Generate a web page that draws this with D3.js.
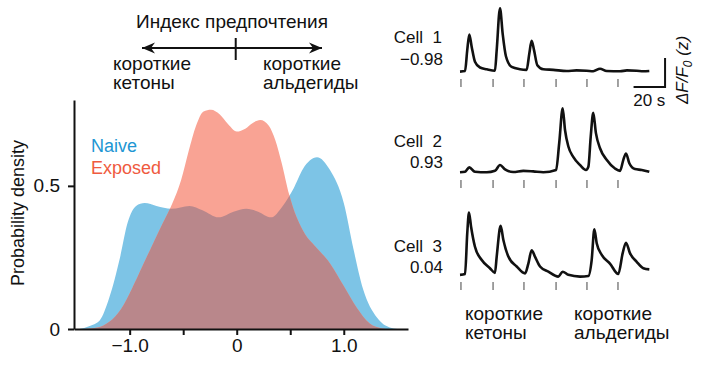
<!DOCTYPE html>
<html>
<head>
<meta charset="utf-8">
<script src="https://cdn.jsdelivr.net/npm/d3@7"></script>
<style>
    body { margin: 0; background: #fff; }
    svg text { font-family: "Liberation Sans", Arial, Helvetica, sans-serif; fill: #111; }
</style>
</head>
<body>
<div class="figure"></div>
<script>
// density of preference index: [index, density]
var naive = [[-1.47, 0], [-1.38, 0.01], [-1.28, 0.03], [-1.19, 0.11], [-1.09, 0.25], [-1.02, 0.37],
    [-0.94, 0.43], [-0.86, 0.44], [-0.75, 0.43], [-0.61, 0.42], [-0.44, 0.43], [-0.32, 0.415],
    [-0.17, 0.39], [-0.03, 0.41], [0.09, 0.42], [0.2, 0.41], [0.32, 0.39], [0.43, 0.43],
    [0.53, 0.49], [0.62, 0.56], [0.75, 0.6], [0.87, 0.556], [1.0, 0.44], [1.09, 0.28],
    [1.18, 0.14], [1.31, 0.04], [1.43, 0.005], [1.5, 0]];
var exposed = [[-1.42, 0], [-1.3, 0.005], [-1.19, 0.025], [-1.08, 0.07], [-0.98, 0.14], [-0.88, 0.22],
    [-0.78, 0.3], [-0.69, 0.37], [-0.6, 0.44], [-0.52, 0.52], [-0.45, 0.62], [-0.38, 0.71],
    [-0.31, 0.76], [-0.24, 0.766], [-0.16, 0.75], [-0.08, 0.715], [0.0, 0.69], [0.08, 0.7],
    [0.15, 0.72], [0.22, 0.73], [0.3, 0.71], [0.36, 0.66], [0.42, 0.58], [0.49, 0.47],
    [0.56, 0.39], [0.64, 0.33], [0.73, 0.29], [0.87, 0.23], [1.0, 0.15], [1.12, 0.075],
    [1.24, 0.02], [1.36, 0.002], [1.42, 0]];
var seriesNames = ["Naive", "Exposed"];
var densityTicks = [0, 0.5];
var densityLabels = ["0", "0.5"];
var indexTicks = [-1, -0.5, 0, 0.5, 1];
var indexLabels = ["−1.0", "", "0", "", "1.0"];

// calcium traces: [time s, dF/F0 z]
var cell1 = [[0, -0.1], [3.2, 0], [4.6, 3.6], [5.9, 6.3], [7.4, 4.2], [9.5, 1.6], [12.7, 0.6], [17.0, 0.3],
    [22.2, 0.05], [23.3, 3.6], [25.4, 10.8], [27.1, 6.4], [29.2, 2.5], [32.8, 0.7], [38.1, 0.3],
    [42.3, 0.2], [44.0, 3.0], [45.5, 5.2], [47.0, 3.6], [49.1, 1.0], [52.9, 0.3], [59.2, 0.2],
    [67.7, 0], [74, 0.1], [80.4, 0.05], [84.6, -0.05], [88.9, 0.4], [93.1, 0], [101.6, -0.05],
    [106, 0.1], [112.2, 0.05], [116.4, -0.05], [120.2, 0]];
var cell2 = [[0, -0.05], [3.2, 0.05], [5.9, 0.8], [9.5, 0.05], [17.0, -0.05], [22.2, 0.2], [25.4, 1.2],
    [28.6, 0.45], [33.8, 0], [40.2, 0.2], [46.5, 0.1], [52.9, -0.05], [61.0, 0.35], [63.0, 5.0],
    [65.2, 11], [66.7, 7.2], [68.8, 4.4], [71.9, 2.6], [76.2, 1.2], [80.0, 0.35], [81.5, 0.9],
    [83.0, 6.1], [84.6, 10.2], [86.3, 6.7], [88.9, 4.1], [93.1, 2.1], [98.4, 0.6], [101.6, 0.2],
    [103.7, 2.1], [105.4, 3.2], [107.5, 1.5], [111.1, 0.5], [115.4, 0.35], [120.2, 0.05]];
var cell3 = [[0, -0.15], [3.2, 0], [4.6, 7.0], [5.7, 10.6], [7.0, 8.2], [9.5, 4.7], [13.8, 2.4], [19.0, 1.0],
    [22.2, 0.2], [23.3, 3.0], [25.8, 8.3], [27.5, 5.9], [30.7, 3.0], [36.0, 1.3], [41.3, 0.1],
    [43.4, 1.8], [45.5, 4.1], [47.6, 3.0], [50.8, 1.3], [56.1, 0.4], [62.4, -0.45], [65.2, 0.4],
    [68.8, -0.15], [76.2, -0.45], [81.5, -0.35], [83.6, 2.4], [85.3, 7.7], [86.8, 5.3], [90.0, 3.3],
    [95.2, 1.8], [100.5, 0], [103.3, 3.6], [105.4, 5.4], [107.9, 3.6], [112.2, 2.1], [116.4, 1.0],
    [120.2, 0.8]];
var traces = [cell1, cell2, cell3];
var cellNames = ["Cell  1", "Cell  2", "Cell  3"];
var cellIndex = ["−0.98", "0.93", "0.04"];
var stimTimes = [0.6, 21, 40.6, 61, 80.6, 100.3];
var ketones = ["короткие", "кетоны"];
var aldehydes = ["короткие", "альдегиды"];

var figure = {
    draw: function () {
        this.svg = d3.select(".figure").append("svg")
            .attr("width", 703)
            .attr("height", 365);
        this.density();
        this.preferenceArrow();
        this.traces();
    },
    density: function () {
        var svg = this.svg;
        var x = d3.scaleLinear().domain([-1.52, 1.6]).range([74, 408]);
        var y = d3.scaleLinear().domain([0, 0.8]).range([329, 100]);
        this.x = x;

        var area = d3.area()
            .curve(d3.curveMonotoneX)
            .x(function (d) { return x(d[0]); })
            .y0(y(0))
            .y1(function (d) { return y(d[1]); });

        svg.append("defs").append("clipPath").attr("id", "naive-clip")
            .append("path").attr("d", area(naive));

        svg.append("path").attr("d", area(naive)).attr("fill", "#7dc4e6");
        svg.append("path").attr("d", area(exposed)).attr("fill", "#f9a394");
        // overlap of the two
        svg.append("path").attr("d", area(exposed)).attr("fill", "#b9878b")
            .attr("clip-path", "url(#naive-clip)");

        var xAxis = d3.axisBottom(x)
            .tickValues(indexTicks)
            .tickSize(6)
            .tickSizeOuter(0)
            .tickPadding(4)
            .tickFormat(function (d, i) { return indexLabels[i]; });
        svg.append("g")
            .attr("transform", "translate(0," + y(0) + ")")
            .call(xAxis)
            .attr("font-size", 19)
            .attr("font-family", null)
            .call(function (g) { g.selectAll("line, path").attr("stroke", "#111").attr("stroke-width", 2); });

        var yAxis = d3.axisLeft(y)
            .tickValues(densityTicks)
            .tickSize(6)
            .tickSizeOuter(0)
            .tickPadding(8)
            .tickFormat(function (d, i) { return densityLabels[i]; });
        svg.append("g")
            .attr("transform", "translate(" + x.range()[0] + ",0)")
            .call(yAxis)
            .attr("font-size", 19)
            .attr("font-family", null)
            .call(function (g) { g.selectAll("line, path").attr("stroke", "#111").attr("stroke-width", 2); });

        svg.append("text")
            .attr("transform", "translate(24,213) rotate(-90)")
            .attr("text-anchor", "middle")
            .attr("font-size", 18)
            .text("Probability density");

        var legendColors = ["#2196d3", "#ef5a40"];
        svg.selectAll(".legend")
            .data(seriesNames)
            .enter()
            .append("text")
            .attr("x", 91)
            .attr("y", function (d, i) { return 152 + i * 22; })
            .attr("font-size", 18)
            .style("fill", function (d, i) { return legendColors[i]; })
            .text(function (d) { return d; });
    },
    preferenceArrow: function () {
        var svg = this.svg;
        var x = this.x;

        svg.select("defs").append("marker")
            .attr("id", "head")
            .attr("viewBox", "-13 -6 13 12")
            .attr("refX", 0)
            .attr("refY", 0)
            .attr("markerUnits", "userSpaceOnUse")
            .attr("markerWidth", 13)
            .attr("markerHeight", 12)
            .attr("orient", "auto-start-reverse")
            .append("path")
            .attr("d", "M0,0L-13,-5.5L-9,0L-13,5.5Z")
            .attr("fill", "#111");

        svg.append("text")
            .attr("x", 232)
            .attr("y", 28)
            .attr("text-anchor", "middle")
            .attr("font-size", 19)
            .text("Индекс предпочтения");

        svg.append("line")
            .attr("x1", 142).attr("x2", 322)
            .attr("y1", 48).attr("y2", 48)
            .attr("stroke", "#111")
            .attr("stroke-width", 2)
            .attr("marker-start", "url(#head)")
            .attr("marker-end", "url(#head)");
        svg.append("line")
            .attr("x1", x(0) - 1).attr("x2", x(0) - 1)
            .attr("y1", 38).attr("y2", 60)
            .attr("stroke", "#111")
            .attr("stroke-width", 2);

        this.twoLines(113, 70, ketones);
        this.twoLines(263, 70, aldehydes);
    },
    twoLines: function (left, top, lines) {
        this.svg.selectAll(null)
            .data(lines)
            .enter()
            .append("text")
            .attr("x", left)
            .attr("y", function (d, i) { return top + i * 19; })
            .attr("font-size", 19)
            .text(function (d) { return d; });
    },
    traces: function () {
        var svg = this.svg;
        var t = d3.scaleLinear().domain([0, 120]).range([460, 649]);
        var z = d3.scaleLinear().domain([0, 5]).range([0, -29]);
        var baselines = [71, 172, 274];
        var labelOffsets = [[-28, -6], [-25, -4], [-22, -1]];

        var line = d3.line()
            .curve(d3.curveMonotoneX)
            .x(function (d) { return t(d[0]); })
            .y(function (d) { return z(d[1]); });

        traces.forEach(function (trace, i) {
            var g = svg.append("g").attr("transform", "translate(0," + baselines[i] + ")");

            g.selectAll(".stim")
                .data(stimTimes)
                .enter()
                .append("line")
                .attr("x1", function (d) { return t(d); })
                .attr("x2", function (d) { return t(d); })
                .attr("y1", 8)
                .attr("y2", 16)
                .attr("stroke", "#8a8a8a")
                .attr("stroke-width", 1.6);

            g.append("path")
                .datum(trace)
                .attr("d", line)
                .attr("fill", "none")
                .attr("stroke", "#111")
                .attr("stroke-width", 2.6)
                .attr("stroke-linejoin", "round");

            g.append("text")
                .attr("x", 442)
                .attr("y", labelOffsets[i][0])
                .attr("text-anchor", "end")
                .attr("font-size", 17)
                .style("white-space", "pre")
                .text(cellNames[i]);
            g.append("text")
                .attr("x", 443)
                .attr("y", labelOffsets[i][1])
                .attr("text-anchor", "end")
                .attr("font-size", 17)
                .text(cellIndex[i]);
        });

        // scale bar: 20 s, 5 z
        var barX0 = t(110.2), barX1 = t(130.2), barY = baselines[0] + 16;
        svg.append("path")
            .attr("d", "M" + barX0 + "," + barY + "H" + barX1 + "V" + (barY + z(5)))
            .attr("fill", "none")
            .attr("stroke", "#111")
            .attr("stroke-width", 2);
        svg.append("text")
            .attr("x", (barX0 + barX1) / 2)
            .attr("y", 106)
            .attr("text-anchor", "middle")
            .attr("font-size", 17)
            .text("20 s");

        var zLabel = svg.append("text")
            .attr("transform", "translate(688,70) rotate(-90)")
            .attr("text-anchor", "middle")
            .attr("font-size", 17)
            .attr("font-style", "italic");
        zLabel.append("tspan").text("ΔF/F");
        zLabel.append("tspan").attr("dy", 4).attr("font-size", 12).text("0");
        zLabel.append("tspan").attr("dy", -4).text(" (z)");

        this.twoLines(465, 320, ketones);
        this.twoLines(574, 320, aldehydes);
    }
};

figure.draw();
</script>
</body>
</html>
